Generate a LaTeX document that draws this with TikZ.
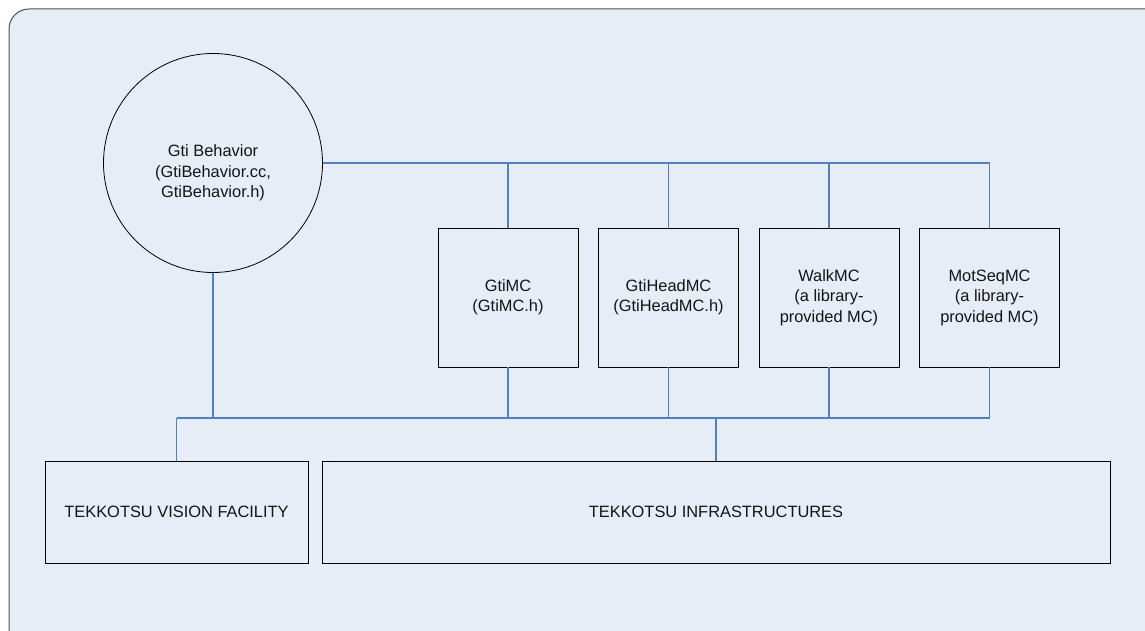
\documentclass[tikz,border=0pt]{standalone}
\usepackage{fontspec}
\setmainfont{Liberation Sans}
\usepackage{tikz}
\usetikzlibrary{positioning}
\definecolor{colorback} {RGB}{231,237,247}
\definecolor{colorframe}{RGB}{80 ,80 ,80 }
\definecolor{colorlink} {RGB}{79 ,129,189}
\definecolor{colortext} {RGB}{20 ,20 ,20 }

\begin{document}
\begin{tikzpicture}[
    x=1pt, y=-1pt,
    font={\fontsize{16.4}{20.5}\selectfont},
    base/.style={draw=black,line width=0.9pt,text=colortext,align=center,rectangle,inner sep=0pt,outer sep=0pt},
    mc/.style={base,minimum width=140pt,minimum height=139pt},
    layer/.style={base,minimum height=102pt},
    txt/.style={text=colortext,align=center},
    link/.style={draw=colorlink,line width=1.2pt},
]

    \clip (0,0) rectangle (1145,631);
    \fill [white] (0,0) rectangle (1145,631);
    \draw [colorframe,fill=colorback,line width=1pt,rounded corners=20pt] (9,9) rectangle (1170,660);

    \node[circle,draw=black,line width=0.8pt,minimum size=219pt,inner sep=0pt,outer sep=0pt] at (213,163) (gti) {};
    \node[txt] at (213,173) (gtitext) {Gti Behavior\\(GtiBehavior.cc,\\GtiBehavior.h)};

    \node[mc] at (508,297.5) (gtimc) {GtiMC\\(GtiMC.h)};
    \node[mc] at (668.5,297.5) (gtihead) {GtiHeadMC\\(GtiHeadMC.h)};
    \node[mc] at (829,297.5) (walk) {WalkMC\\(a library-\\provided MC)};
    \node[mc] at (989.5,297.5) (motseq) {MotSeqMC\\(a library-\\provided MC)};

    \node[layer,minimum width=263pt] at (176.5,512) (vision) {TEKKOTSU VISION FACILITY};
    \node[layer,minimum width=788pt] at (716,512) (infra) {TEKKOTSU INFRASTRUCTURES};

    \coordinate (bus) at (0,418);

    % behavior to the motion commands
    \draw[link] (gti.east) -- (motseq.north |- gti.east);
    \draw[link] (gtimc.north) -- (gtimc.north |- gti.east);
    \draw[link] (gtihead.north) -- (gtihead.north |- gti.east);
    \draw[link] (walk.north) -- (walk.north |- gti.east);
    \draw[link] (motseq.north) -- (motseq.north |- gti.east);

    % everything down to the tekkotsu layers
    \draw[link] (vision.north |- bus) -- (motseq.south |- bus);
    \draw[link] (gti.south) -- (gti.south |- bus);
    \draw[link] (gtimc.south) -- (gtimc.south |- bus);
    \draw[link] (gtihead.south) -- (gtihead.south |- bus);
    \draw[link] (walk.south) -- (walk.south |- bus);
    \draw[link] (motseq.south) -- (motseq.south |- bus);
    \draw[link] (vision.north) -- (vision.north |- bus);
    \draw[link] (infra.north) -- (infra.north |- bus);

\end{tikzpicture}
\end{document}
